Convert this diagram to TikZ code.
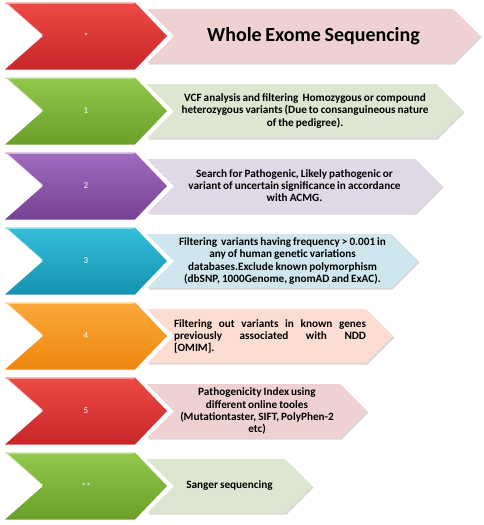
\documentclass[tikz,border=0pt]{standalone}
\usepackage{fontspec}
\setmainfont{Carlito}[WordSpace=0.8]
\definecolor{redT}{HTML}{EC4A44}
\definecolor{redB}{HTML}{C9262A}
\definecolor{redL}{HTML}{EFD1D2}
\definecolor{grnT}{HTML}{92C84A}
\definecolor{grnB}{HTML}{6A9F2A}
\definecolor{grnL}{HTML}{DCE6D1}
\definecolor{purT}{HTML}{A06CC0}
\definecolor{purB}{HTML}{774093}
\definecolor{purL}{HTML}{DFD8E7}
\definecolor{tealT}{HTML}{35BEDA}
\definecolor{tealB}{HTML}{1592AF}
\definecolor{tealL}{HTML}{D0E6EE}
\definecolor{orgT}{HTML}{FBA83A}
\definecolor{orgB}{HTML}{EE870F}
\definecolor{orgL}{HTML}{FCDDD3}
\tikzset{
  numtext/.style={text=white, font=\fontsize{9}{10}\selectfont},
  boxtext/.style={text=black, align=center, font=\bfseries\fontsize{11.2}{12.1}\selectfont, inner sep=0pt},
  lightshadow/.style={fill=black!45, opacity=.35},
}
% #1 y centre (px from top), #2 tip x of light box, #3 top colour, #4 bottom colour,
% #5 light colour, #6 number label, #7 node name, #8 text, #9 text style
\newcommand\stagerow[9]{%
  \shade[top color=#3, bottom color=#4]
    (5,{-#1+33.5}) -- (135,{-#1+33.5}) -- (167,{-#1}) -- (135,{-#1-33.5})
    -- (5,{-#1-33.5}) -- (43,{-#1}) -- cycle;
  \draw[white, opacity=.75, line width=1.2pt, line cap=round]
    (7,{-#1+32}) -- (42,{-#1+1});
  \draw[white, opacity=.45, line width=.8pt]
    (7,{-#1+32.5}) -- (134,{-#1+32.5});
  \fill[lightshadow]
    (148.5,{-#1+25.5}) -- ({#2-25.5},{-#1+25.5}) -- ({#2+1.5},{-#1-1.5}) -- ({#2-25.5},{-#1-28.5})
    -- (148.5,{-#1-28.5}) -- (175.5,{-#1-1.5}) -- cycle;
  \fill[#5]
    (147,{-#1+27}) -- ({#2-27},{-#1+27}) -- (#2,{-#1}) -- ({#2-27},{-#1-27})
    -- (147,{-#1-27}) -- (174,{-#1}) -- cycle;
  \node[numtext] (n#7) at (86,{-#1}) {#6};
  \node[boxtext, #9] (t#7) at ({(174+#2-27)/2},{-#1}) {#8};
}
\begin{document}
\begin{tikzpicture}[x=1pt, y=1pt]
\useasboundingbox (0,0) rectangle (484,-525);
\stagerow{36}{480}{redT}{redB}{redL}{*}{0}{Whole Exome Sequencing}{font=\bfseries\fontsize{20}{22}\selectfont}
\stagerow{111}{463}{grnT}{grnB}{grnL}{1}{1}{VCF analysis and filtering\ \ Homozygous or compound\\heterozygous variants (Due to consanguineous nature\\of the pedigree).}{}
\stagerow{186}{442}{purT}{purB}{purL}{2}{2}{Search for Pathogenic, Likely pathogenic or\\variant of uncertain significance in accordance\\with ACMG.}{}
\stagerow{261}{418}{tealT}{tealB}{tealL}{3}{3}{Filtering\ \ variants having frequency > 0.001 in\\any of human genetic variations\\databases.Exclude known polymorphism\\(dbSNP, 1000Genome, gnomAD and ExAC).}{}
\stagerow{336}{393}{orgT}{orgB}{orgL}{4}{4}{\makebox[192pt][s]{Filtering out variants in known genes}\\\makebox[192pt][s]{previously associated with NDD}\\\makebox[192pt][l]{[OMIM].}}{align=left}
\stagerow{411}{367}{redT}{redB}{redL}{5}{5}{Pathogenicity Index using\\different online tooles\\(Mutationtaster, SIFT, PolyPhen-2\\etc)}{}
\stagerow{486}{312}{grnT}{grnB}{grnL}{**}{6}{Sanger sequencing}{}
\end{tikzpicture}
\end{document}
